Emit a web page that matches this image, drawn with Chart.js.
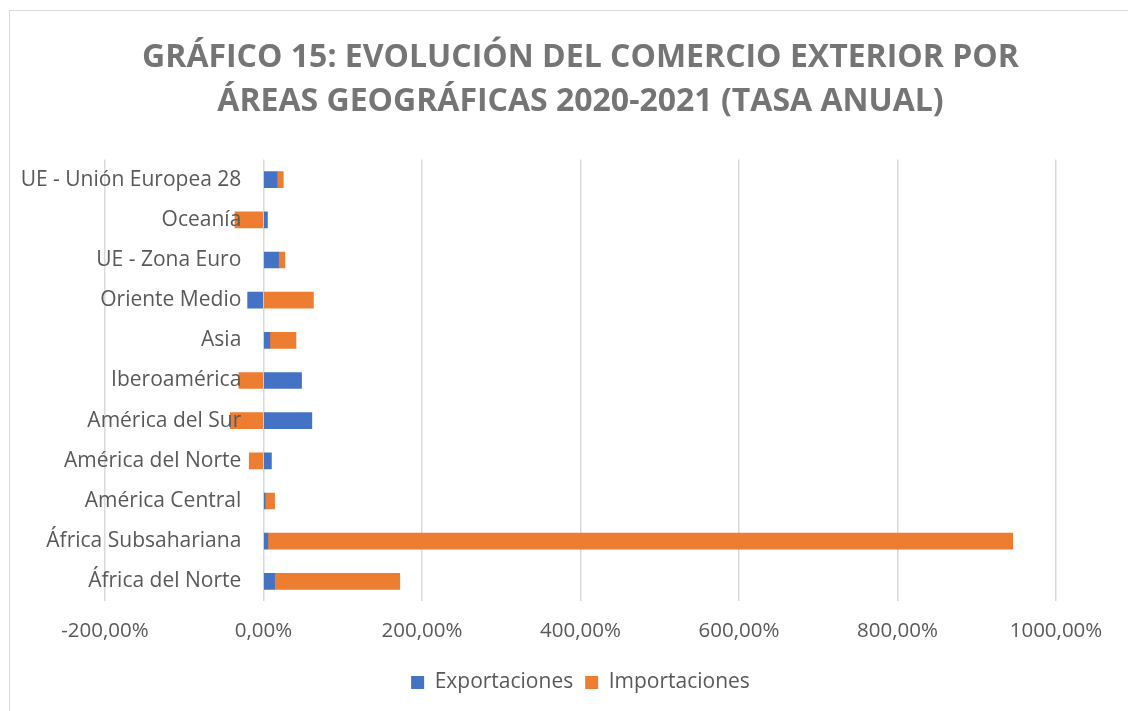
<!DOCTYPE html>
<html>
<head>
<meta charset="utf-8">
<script src="https://cdn.jsdelivr.net/npm/chart.js@4/dist/chart.umd.min.js"></script>
<style>
  html, body { margin: 0; padding: 0; background: #fff; overflow: hidden; }
  #frame { position: absolute; left: 9px; top: 10px; width: 1200px; height: 800px; border: 1px solid #d9d9d9; }
  #wrap { position: absolute; left: 0; top: 0; width: 1128px; height: 711px; }
</style>
</head>
<body>
<div id="frame"></div>
<div id="wrap"><canvas id="myChart"></canvas></div>
<script>
    const areas = [
        'UE - Unión Europea 28', 'Oceanía', 'UE - Zona Euro', 'Oriente Medio', 'Asia',
        'Iberoamérica', 'América del Sur', 'América del Norte', 'América Central',
        'África Subsahariana', 'África del Norte'
    ];
    // tasa anual en %
    const exportaciones = [17, 5, 19, -20, 8, 48, 61, 10, 2, 5.5, 14];
    const importaciones = [8, -36, 8, 63, 33, -31, -42, -18, 12, 940, 158];
    const xTicks = [-200, 0, 200, 400, 600, 800, 1000];

    const gris = '#595959';

    var ctx = document.getElementById('myChart');
    var chart = new Chart(ctx, {
        type: 'bar',
        data: {
            labels: areas,
            datasets: [{
                label: 'Exportaciones',
                backgroundColor: '#4472C4',
                barThickness: 16,
                data: exportaciones
            },
            {
                label: 'Importaciones',
                backgroundColor: '#ED7D31',
                barThickness: 16,
                data: importaciones
            }]
        },
        options: {
            indexAxis: 'y',
            responsive: true,
            maintainAspectRatio: false,
            animation: false,
            layout: {
                padding: { left: 105, right: 72, top: 23, bottom: 8 }
            },
            plugins: {
                title: {
                    display: true,
                    text: ['GRÁFICO 15: EVOLUCIÓN DEL COMERCIO EXTERIOR POR', 'ÁREAS GEOGRÁFICAS 2020-2021 (TASA ANUAL)'],
                    color: '#757575',
                    font: { family: "'Open Sans', sans-serif", size: 32, weight: 'bold', lineHeight: 1.4 },
                    padding: { top: 12, bottom: 35 }
                },
                legend: {
                    position: 'bottom',
                    labels: {
                        color: gris,
                        boxWidth: 13,
                        boxHeight: 13,
                        padding: 12,
                        font: { family: "'Open Sans', sans-serif", size: 21 }
                    }
                },
                tooltip: { enabled: false }
            },
            scales: {
                x: {
                    stacked: true,
                    min: -200,
                    max: 1000,
                    afterBuildTicks: function (axis) {
                        axis.ticks = xTicks.map(v => ({ value: v }));
                    },
                    grid: { color: '#d9d9d9', lineWidth: 1.5, drawTicks: false },
                    border: { display: false },
                    ticks: {
                        color: gris,
                        padding: 17,
                        font: { family: "'Open Sans', sans-serif", size: 20.5 },
                        callback: function (value) {
                            return value.toFixed(2).replace('.', ',') + '%';
                        }
                    }
                },
                y: {
                    stacked: true,
                    // etiquetas junto al eje 0, como en Excel
                    position: { x: -28 },
                    grid: { display: false },
                    border: { display: false },
                    ticks: {
                        z: 1, // texto encima de las barras
                        color: gris,
                        font: { family: "'Open Sans', sans-serif", size: 21 }
                    }
                }
            }
        }
    });
</script>
</body>
</html>
